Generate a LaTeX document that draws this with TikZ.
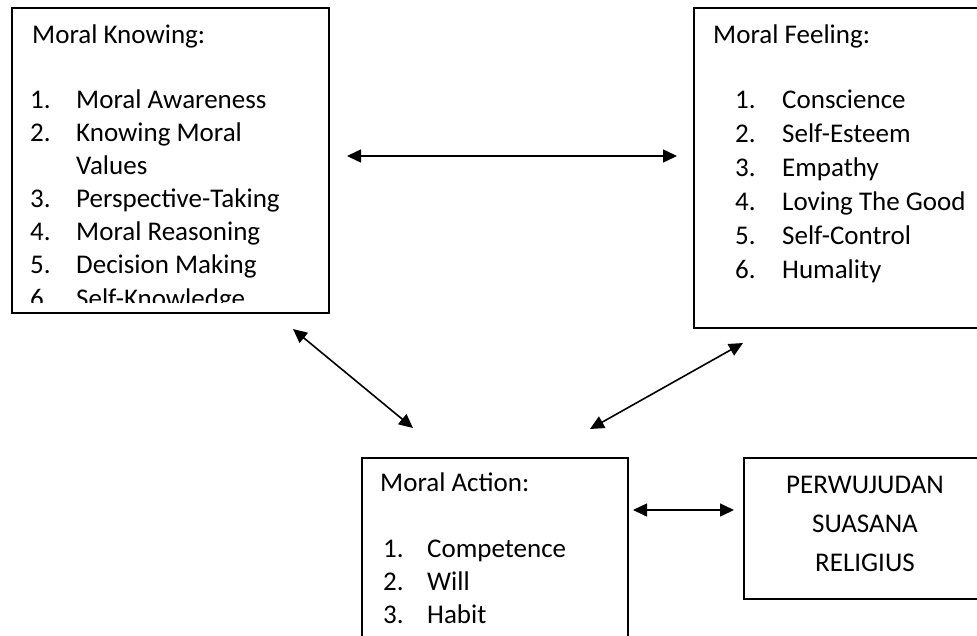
\documentclass[tikz,border=0pt]{standalone}
\usepackage{fontspec}
\setmainfont{Carlito}
\usetikzlibrary{arrows.meta}
\tikzset{
  boxframe/.style={draw=black, line width=1.6pt, inner sep=0pt, anchor=north west},
  txt/.style={anchor=base west, inner sep=0pt, font=\fontsize{27pt}{33pt}\selectfont},
  ctxt/.style={anchor=base, inner sep=0pt, font=\fontsize{27pt}{33pt}\selectfont},
  link/.style={line width=1.6pt, {Triangle[length=14pt,width=13pt]}-{Triangle[length=14pt,width=13pt]}}
}
\begin{document}
\begin{tikzpicture}[x=1pt,y=-1pt]
\useasboundingbox (0,0) rectangle (977,635);
\clip (0,0) rectangle (977,635);
\fill[white] (0,0) rectangle (977,635);

% boxes
\node[boxframe, minimum width=317pt, minimum height=305pt] (know) at (11,7) {};
\node[boxframe, minimum width=300pt, minimum height=320pt] (feel) at (693,7) {};
\node[boxframe, minimum width=266pt, minimum height=200pt] (act) at (361,457) {};
\node[boxframe, minimum width=250pt, minimum height=141pt] (rel) at (743,457) {};

% Moral Knowing text (clipped inside its box)
\begin{scope}
\clip (12,8) rectangle (327,302);
\node[txt] (kt) at (32,43) {Moral Knowing:};
\node[txt] (kn1) at (30,108) {1.};
\node[txt] (ki1) at (76,108) {Moral Awareness};
\node[txt] (kn2) at (30,141) {2.};
\node[txt] (ki2) at (76,141) {Knowing Moral};
\node[txt] (ki2b) at (76,174) {Values};
\node[txt] (kn3) at (30,207) {3.};
\node[txt] (ki3) at (76,207) {Perspective-Taking};
\node[txt] (kn4) at (30,240) {4.};
\node[txt] (ki4) at (76,240) {Moral Reasoning};
\node[txt] (kn5) at (30,273) {5.};
\node[txt] (ki5) at (76,273) {Decision Making};
\node[txt] (kn6) at (30,307) {6.};
\node[txt] (ki6) at (76,307) {Self-Knowledge};
\end{scope}

% Moral Feeling text
\node[txt] (ft) at (713,43) {Moral Feeling:};
\node[txt] (fn1) at (735,108) {1.};
\node[txt] (fi1) at (782,108) {Conscience};
\node[txt] (fn2) at (735,142) {2.};
\node[txt] (fi2) at (782,142) {Self-Esteem};
\node[txt] (fn3) at (735,176) {3.};
\node[txt] (fi3) at (782,176) {Empathy};
\node[txt] (fn4) at (735,210) {4.};
\node[txt] (fi4) at (782,210) {Loving The Good};
\node[txt] (fn5) at (735,244) {5.};
\node[txt] (fi5) at (782,244) {Self-Control};
\node[txt] (fn6) at (735,278) {6.};
\node[txt] (fi6) at (782,278) {Humality};

% Moral Action text
\node[txt] (at) at (380,491) {Moral Action:};
\node[txt] (an1) at (383,557) {1.};
\node[txt] (ai1) at (427,557) {Competence};
\node[txt] (an2) at (383,590) {2.};
\node[txt] (ai2) at (427,590) {Will};
\node[txt] (an3) at (383,623) {3.};
\node[txt] (ai3) at (427,623) {Habit};

% Perwujudan text
\node[ctxt] (r1) at (865,493) {PERWUJUDAN};
\node[ctxt] (r2) at (865,532) {SUASANA};
\node[ctxt] (r3) at (865,571) {RELIGIUS};

% connector ends
\coordinate (kfA) at (347,156);
\coordinate (kfB) at (677,156);
\coordinate (kaA) at (293,329);
\coordinate (kaB) at (413,428);
\coordinate (faA) at (743,343);
\coordinate (faB) at (590,429);
\coordinate (arA) at (633,510);
\coordinate (arB) at (734,510);

\draw[link] (kfA) -- (kfB);
\draw[link] (kaA) -- (kaB);
\draw[link] (faA) -- (faB);
\draw[link] (arA) -- (arB);
\end{tikzpicture}
\end{document}
